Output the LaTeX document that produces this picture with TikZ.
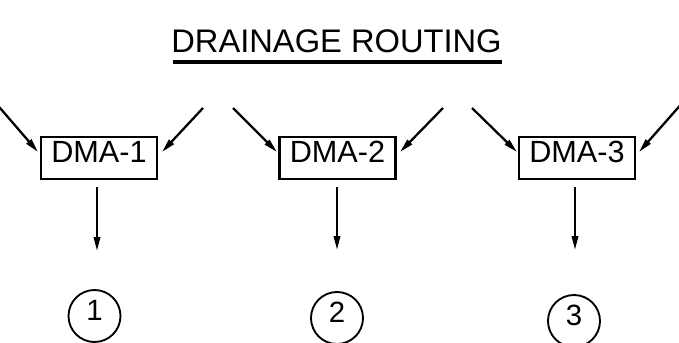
\documentclass[tikz,border=0pt]{standalone}
\usepackage{fontspec}
\setmainfont{Liberation Sans}
\usetikzlibrary{arrows.meta}
\begin{document}
\begin{tikzpicture}[x=0.75pt,y=-0.75pt,
  dmabox/.style={draw,line width=1.7pt,inner xsep=0pt,inner ysep=0pt,minimum width=87pt,
    text height=18.75pt,text depth=12.75pt,font=\fontsize{23pt}{24pt}\selectfont},
  outcirc/.style={draw,circle,line width=1.4pt,inner sep=0pt,minimum size=39pt,
    text height=15pt,text depth=9pt,font=\fontsize{22pt}{23pt}\selectfont},
  arr/.style={line width=1.7pt,-{Triangle[length=10.5pt,width=4.8pt]}},
  title/.style={font=\fontsize{24.5pt}{26pt}\selectfont,inner sep=0pt}]
\useasboundingbox (0,0) rectangle (679,343);
% title
\node[title,anchor=base] (t) at (336.5,52) {DRAINAGE ROUTING};
\coordinate (ul) at (173,62);
\coordinate (ur) at (502,62);
\draw[line width=2.4pt] (ul) -- (ur);
% boxes
\node[dmabox] (b1) at (99,158) {DMA-1};
\node[dmabox] (b2) at (337.5,158) {DMA-2};
\node[dmabox] (b3) at (577,158) {DMA-3};
% circles
\node[outcirc] (c1) at (94.5,316) {1};
\node[outcirc] (c2) at (337,318) {2};
\node[outcirc] (c3) at (574,321) {3};
% incoming arrows
\coordinate (s1l) at (-6,101);
\coordinate (e1l) at (38,152);
\coordinate (s1r) at (203,108);
\coordinate (e1r) at (162,152);
\coordinate (s2l) at (233,108);
\coordinate (e2l) at (277,152);
\coordinate (s2r) at (443,108);
\coordinate (e2r) at (400,152);
\coordinate (s3l) at (472,108);
\coordinate (e3l) at (517,152);
\coordinate (s3r) at (684,101);
\coordinate (e3r) at (639,152);
\draw[arr] (s1l) -- (e1l);
\draw[arr] (s1r) -- (e1r);
\draw[arr] (s2l) -- (e2l);
\draw[arr] (s2r) -- (e2r);
\draw[arr] (s3l) -- (e3l);
\draw[arr] (s3r) -- (e3r);
% outgoing arrows
\coordinate (d1) at (97,251);
\coordinate (d2) at (337,250);
\coordinate (d3) at (575,250);
\draw[arr] (97,187) -- (d1);
\draw[arr] (337,187) -- (d2);
\draw[arr] (575,187) -- (d3);
\end{tikzpicture}
\end{document}
